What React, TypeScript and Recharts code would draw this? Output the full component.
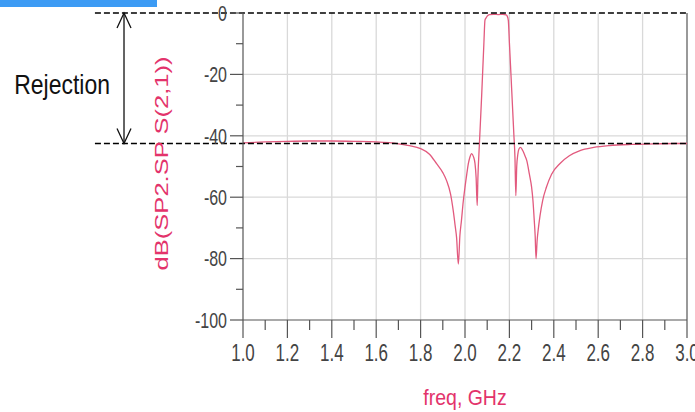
import { LineChart, Line, XAxis, YAxis, ReferenceLine } from "recharts";

// S21 sweep of the bandpass filter, 1–3 GHz
const freqGHz = [
  1.0, 1.1, 1.2, 1.3, 1.4, 1.5, 1.6, 1.7, 1.75, 1.8, 1.84, 1.872, 1.9, 1.917, 1.935, 1.947, 1.956, 1.962, 1.97,
  1.977, 1.984, 1.992, 2.0, 2.008, 2.015, 2.022, 2.03, 2.038, 2.045, 2.05, 2.055, 2.058, 2.065, 2.075, 2.085, 2.09,
  2.095, 2.1, 2.11, 2.13, 2.15, 2.17, 2.185, 2.19, 2.195, 2.2, 2.205, 2.21, 2.215, 2.22, 2.225, 2.229, 2.233, 2.238,
  2.243, 2.25, 2.26, 2.27, 2.278, 2.29, 2.3, 2.306, 2.312, 2.316, 2.32, 2.325, 2.33, 2.338, 2.35, 2.367, 2.39, 2.428,
  2.47, 2.518, 2.58, 2.65, 2.75, 2.85, 2.95, 3.0,
];
const s21dB = [
  -42.3, -42.0, -41.8, -41.7, -41.7, -41.8, -42.0, -42.6, -43.2, -44.2, -46.0, -49.1, -52.0, -54.6, -59.0, -64.4,
  -69.5, -73.1, -81.8, -72.5, -67.6, -61.5, -56.7, -52.5, -49.1, -47.0, -45.8, -46.8, -49.0, -53.5, -62.7, -54.0,
  -42.5, -27.0, -10.0, -2.3, -1.6, -1.0, -0.5, -0.4, -0.5, -0.4, -0.6, -1.0, -2.3, -9.7, -17.0, -24.5, -32.0, -39.5,
  -47.0, -59.5, -50.0, -46.0, -44.3, -43.8, -44.8, -46.5, -48.0, -52.5, -56.7, -61.0, -67.6, -72.5, -80.0, -74.0,
  -70.5, -66.0, -61.0, -56.7, -52.5, -49.0, -46.5, -44.8, -43.8, -43.2, -42.8, -42.6, -42.5, -42.5,
];

const xTickValues = [
  1.0, 1.1, 1.2, 1.3, 1.4, 1.5, 1.6, 1.7, 1.8, 1.9, 2.0, 2.1, 2.2, 2.3, 2.4, 2.5, 2.6, 2.7, 2.8, 2.9, 3.0,
];
const yTickValues = [0, -10, -20, -30, -40, -50, -60, -70, -80, -90, -100];
const xGridValues = [1.2, 1.4, 1.6, 1.8, 2.0, 2.2, 2.4, 2.6, 2.8];
const yGridValues = [-20, -40, -60, -80];

// passband top and out-of-band floor
const rejectionTop = 0;
const rejectionFloor = -42.5;

const data = freqGHz.map((freq, i) => ({ freq, s21: s21dB[i] }));

const FONT = "'Liberation Sans', Arial, sans-serif";
const TRACE = "#e25a7e";
const TITLE = "#e3336b";
const AXIS = "#555";

function FreqTick({ x, y, payload }: any) {
  const v = payload.value as number;
  const major = Math.round(v * 10) % 2 === 0;
  return (
    <g>
      <line x1={x} y1={y} x2={x} y2={y + (major ? 18 : 10)} stroke={AXIS} strokeWidth={1.2} />
      {major && (
        <text
          transform={`translate(${x},${y + 33}) scale(1,1.36)`}
          textAnchor="middle"
          dy="0.36em"
          fontSize={17}
          fontFamily={FONT}
          fill="#444"
        >
          {v.toFixed(1)}
        </text>
      )}
    </g>
  );
}

function DbTick({ x, y, payload }: any) {
  const v = payload.value as number;
  const major = v % 20 === 0;
  return (
    <g>
      <line x1={x} y1={y} x2={x - (major ? 13 : 7)} y2={y} stroke={AXIS} strokeWidth={1.2} />
      {major && (
        <text
          transform={`translate(${x - 16},${y}) scale(1,1.36)`}
          textAnchor="end"
          dy="0.36em"
          fontSize={16}
          fontFamily={FONT}
          fill="#444"
        >
          {v}
        </text>
      )}
    </g>
  );
}

// double-headed arrow spanning the rejection, with its caption
function RejectionArrow({ x1, y1, x2, y2 }: any) {
  const top = Math.min(y1, y2);
  const bottom = Math.max(y1, y2);
  const mid = (top + bottom) / 2;
  return (
    <g>
      <line x1={x1} y1={top} x2={x2} y2={bottom} stroke="#111" strokeWidth={1.3} />
      <polyline points={`${x1 - 7},${top + 15} ${x1},${top} ${x1 + 7},${top + 15}`} fill="none" stroke="#111" strokeWidth={1.3} />
      <polyline points={`${x1 - 7},${bottom - 15} ${x1},${bottom} ${x1 + 7},${bottom - 15}`} fill="none" stroke="#111" strokeWidth={1.3} />
      <text
        transform={`translate(${x1 - 14},${mid + 6}) scale(1,1.2)`}
        textAnchor="end"
        dy="0.36em"
        fontSize={23}
        fontFamily={FONT}
        fill="#111"
      >
        Rejection
      </text>
    </g>
  );
}

function YTitle({ viewBox }: any) {
  const cx = viewBox.x - 15;
  const cy = viewBox.y + viewBox.height / 2 - 3;
  return (
    <text
      transform={`translate(${cx},${cy}) rotate(-90) scale(1.42,1)`}
      textAnchor="middle"
      fontSize={18}
      fontFamily={FONT}
      fill={TITLE}
    >
      dB(SP2.SP S(2,1))
    </text>
  );
}

function XTitle({ viewBox }: any) {
  const cx = viewBox.x + viewBox.width / 2;
  return (
    <text
      transform={`translate(${cx},${viewBox.y + 77}) scale(1,1.1)`}
      textAnchor="middle"
      dy="0.36em"
      fontSize={19.5}
      fontFamily={FONT}
      fill={TITLE}
    >
      freq, GHz
    </text>
  );
}

export default function App() {
  return (
    <div style={{ position: "fixed", left: 0, top: 0, width: 695, height: 412, background: "#fff", overflow: "hidden" }}>
      <div style={{ position: "absolute", left: 0, top: 0, width: 157, height: 7, background: "#3c9bf4" }} />
      <LineChart width={695} height={412} data={data} margin={{ top: 13, right: 8, bottom: 62, left: 183 }}>
        {xGridValues.map((v) => (
          <ReferenceLine key={`gx${v}`} x={v} stroke="#d9d9d9" strokeWidth={1.3} />
        ))}
        {yGridValues.map((v) => (
          <ReferenceLine key={`gy${v}`} y={v} stroke="#d9d9d9" strokeWidth={1.3} />
        ))}
        <ReferenceLine x={3} stroke={AXIS} strokeWidth={1.2} />
        <XAxis
          type="number"
          dataKey="freq"
          domain={[1, 3]}
          ticks={xTickValues}
          interval={0}
          height={30}
          tickSize={0}
          tickMargin={0}
          tickLine={false}
          axisLine={{ stroke: AXIS, strokeWidth: 1.2 }}
          tick={<FreqTick />}
          label={<XTitle />}
        />
        <YAxis
          type="number"
          domain={[-100, 0]}
          ticks={yTickValues}
          interval={0}
          width={60}
          tickSize={0}
          tickMargin={0}
          tickLine={false}
          axisLine={{ stroke: AXIS, strokeWidth: 1.2 }}
          tick={<DbTick />}
          label={<YTitle />}
        />
        <Line
          type="monotone"
          dataKey="s21"
          stroke={TRACE}
          strokeWidth={1.3}
          dot={false}
          isAnimationActive={false}
        />
        <ReferenceLine
          segment={[{ x: 0.333, y: rejectionTop }, { x: 3, y: rejectionTop }]}
          ifOverflow="visible"
          stroke="#000"
          strokeWidth={1.5}
          strokeDasharray="6 3"
        />
        <ReferenceLine
          segment={[{ x: 0.333, y: rejectionFloor }, { x: 3, y: rejectionFloor }]}
          ifOverflow="visible"
          stroke="#000"
          strokeWidth={1.5}
          strokeDasharray="6 3"
        />
        <ReferenceLine
          segment={[{ x: 0.464, y: rejectionTop }, { x: 0.464, y: rejectionFloor }]}
          ifOverflow="visible"
          shape={<RejectionArrow />}
        />
      </LineChart>
    </div>
  );
}
